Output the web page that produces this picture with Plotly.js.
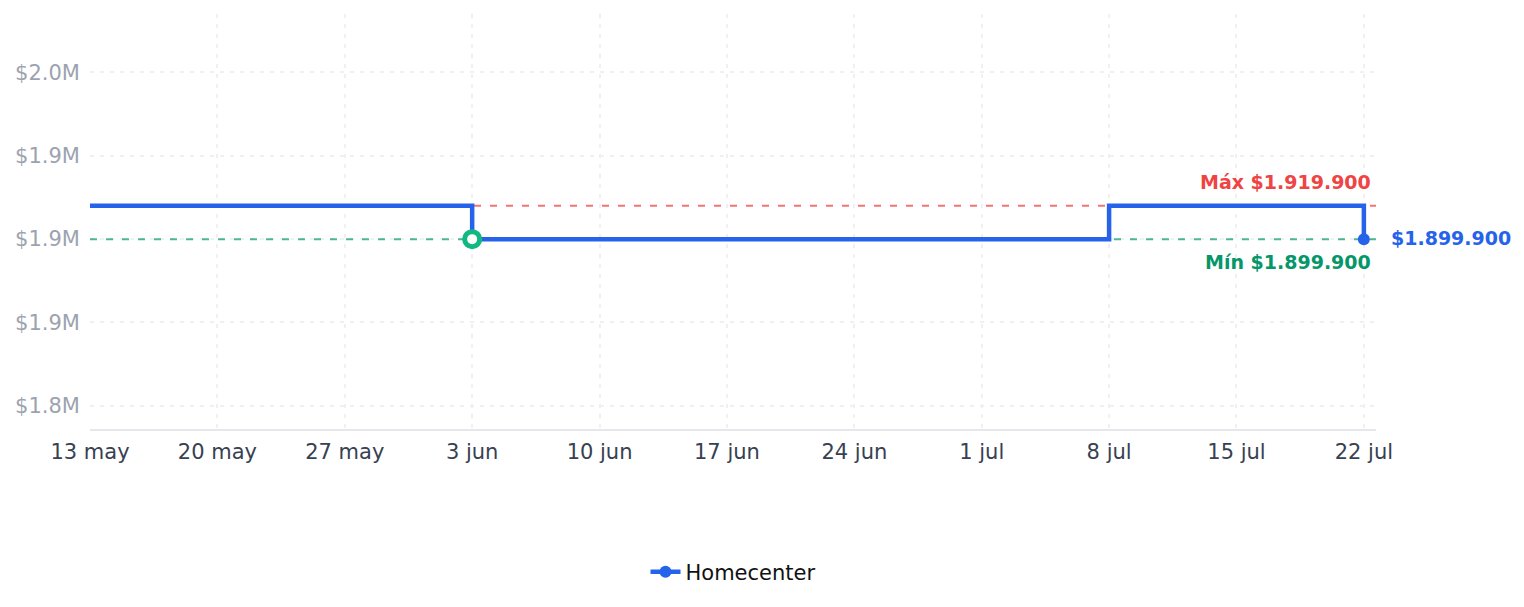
<!DOCTYPE html>
<html>
<head>
<meta charset="utf-8">
<script src="https://cdn.plot.ly/plotly-3.0.1.min.js"></script>
<style>
  html, body { margin: 0; padding: 0; background: #ffffff; }
  #chart { width: 1524px; height: 607px; }
</style>
</head>
<body>
<div id="chart"></div>
<script>
// ---- data ----
const seriesName = 'Homecenter';
const dates = ['2024-05-13', '2024-06-03', '2024-07-08', '2024-07-22'];
const prices = [1919900, 1899900, 1919900, 1899900];

const xTickVals = ['2024-05-13', '2024-05-20', '2024-05-27', '2024-06-03', '2024-06-10', '2024-06-17',
                   '2024-06-24', '2024-07-01', '2024-07-08', '2024-07-15', '2024-07-22'];
const xTickText = ['13 may', '20 may', '27 may', '3 jun', '10 jun', '17 jun',
                   '24 jun', '1 jul', '8 jul', '15 jul', '22 jul'];
const yTickVals = [1800000, 1850000, 1900000, 1950000, 2000000];
const yTickText = ['$1.8M', '$1.9M', '$1.9M', '$1.9M', '$2.0M'];

const yRange = [1785906, 2035094];
const xRange = ['2024-05-13', '2024-07-22 16:00'];

// ---- helpers ----
function fmt(v) {
  return '$' + String(v).replace(/\B(?=(\d{3})+(?!\d))/g, '.');
}
const maxVal = Math.max(...prices);
const minVal = Math.min(...prices);
const minIdx = prices.indexOf(minVal);
const lastIdx = prices.length - 1;

const BLUE = '#2563eb';
const RED = '#ef4444';
const GREEN_TXT = '#059669';
const GREEN_MK = '#10b981';
const FONT = 'DejaVu Sans, sans-serif';

const traces = [
  // max reference line
  {
    x: [xRange[0], xRange[1]], y: [maxVal, maxVal],
    mode: 'lines', showlegend: false, hoverinfo: 'skip',
    line: { color: 'rgba(239,68,68,0.75)', width: 2, dash: '7px,9px' }
  },
  // min reference line
  {
    x: [xRange[0], xRange[1]], y: [minVal, minVal],
    mode: 'lines', showlegend: false, hoverinfo: 'skip',
    line: { color: 'rgba(16,160,115,0.75)', width: 2, dash: '7px,9px' }
  },
  // main step line
  {
    x: dates, y: prices, mode: 'lines', name: seriesName,
    legendgroup: 'hc', showlegend: false,
    line: { color: BLUE, width: 4.5, shape: 'hv' }
  },
  // min point marker
  {
    x: [dates[minIdx]], y: [prices[minIdx]], mode: 'markers', showlegend: false,
    marker: { size: 15, color: '#ffffff', line: { color: GREEN_MK, width: 5 } }
  },
  // last point marker (legend entry)
  {
    x: [dates[lastIdx]], y: [prices[lastIdx]], mode: 'lines+markers', name: seriesName,
    legendgroup: 'hc', showlegend: true,
    line: { color: BLUE, width: 4.5 },
    marker: { size: 12, color: BLUE }
  }
];

const layout = {
  width: 1524, height: 607,
  margin: { l: 90, r: 148, t: 14, b: 178 },
  paper_bgcolor: '#ffffff', plot_bgcolor: '#ffffff',
  font: { family: FONT, size: 21, color: '#374151' },
  showlegend: true,
  legend: {
    orientation: 'h', x: 0.5, xanchor: 'center', y: -0.345, yanchor: 'middle',
    font: { family: FONT, size: 21, color: '#111111' }
  },
  xaxis: {
    type: 'date', range: xRange,
    tickvals: xTickVals, ticktext: xTickText,
    tickfont: { family: FONT, size: 21, color: '#374151' },
    ticklabelstandoff: 3,
    showgrid: true, gridcolor: '#f0f0f2', gridwidth: 2, griddash: '4px,6px',
    showline: true, linecolor: '#e5e7eb', linewidth: 1.5,
    zeroline: false, ticks: ''
  },
  yaxis: {
    range: yRange,
    tickvals: yTickVals, ticktext: yTickText,
    tickfont: { family: FONT, size: 21, color: '#9ca3af' },
    ticklabelstandoff: 9,
    showgrid: true, gridcolor: '#f0f0f2', gridwidth: 2, griddash: '4px,6px',
    showline: false, zeroline: false, ticks: ''
  },
  annotations: [
    {
      xref: 'paper', x: 1, yref: 'y', y: maxVal, xanchor: 'right', yanchor: 'middle',
      xshift: -3, yshift: 24, showarrow: false,
      text: 'Máx ' + fmt(maxVal),
      font: { family: FONT, size: 19, color: RED, weight: 700 }
    },
    {
      xref: 'paper', x: 1, yref: 'y', y: minVal, xanchor: 'right', yanchor: 'middle',
      xshift: -3, yshift: -23, showarrow: false,
      text: 'Mín ' + fmt(minVal),
      font: { family: FONT, size: 19, color: GREEN_TXT, weight: 700 }
    },
    {
      xref: 'x', x: dates[lastIdx], yref: 'y', y: prices[lastIdx], xanchor: 'left', yanchor: 'middle',
      xshift: 25, yshift: 1, showarrow: false,
      text: fmt(prices[lastIdx]),
      font: { family: FONT, size: 19, color: BLUE, weight: 700 }
    }
  ]
};

Plotly.newPlot('chart', traces, layout, { displayModeBar: false, responsive: false });
</script>
</body>
</html>
